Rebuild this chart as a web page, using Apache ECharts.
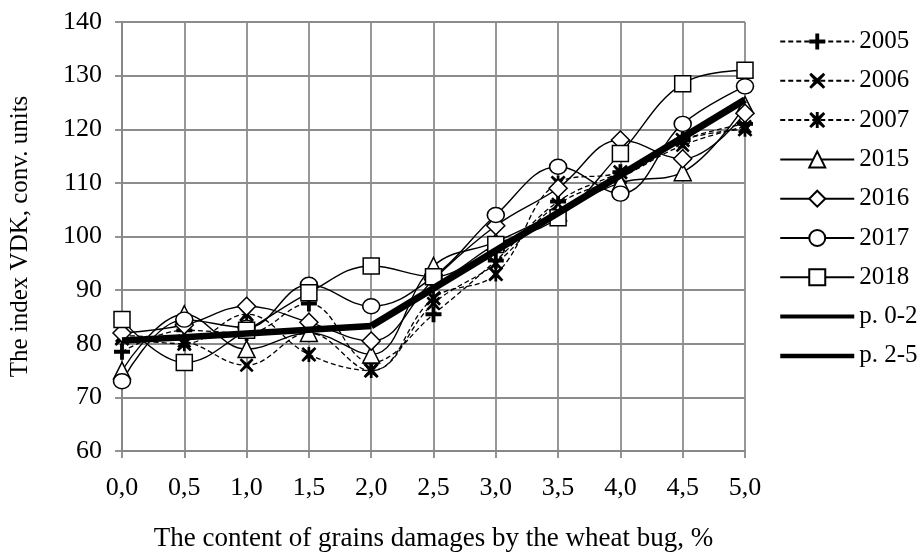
<!DOCTYPE html>
<html>
<head>
<meta charset="utf-8">
<script src="https://cdn.jsdelivr.net/npm/echarts@6/dist/echarts.min.js"></script>
<style>
html,body{margin:0;padding:0;background:#fff;}
#c{width:922px;height:557px;}
</style>
</head>
<body>
<div id="c"></div>
<script>
// ---- data ----
const xValues = [0, 0.5, 1.0, 1.5, 2.0, 2.5, 3.0, 3.5, 4.0, 4.5, 5.0];
const y2005 = [78.5, 82.5, 82.0, 87.5, 76.5, 85.5, 95.5, 106.5, 112.0, 118.0, 121.0];
const y2006 = [81.5, 80.5, 76.0, 82.0, 75.0, 87.5, 95.0, 106.0, 111.0, 117.0, 120.5];
const y2007 = [81.0, 80.0, 85.5, 78.0, 75.0, 88.5, 93.0, 110.0, 112.0, 118.0, 120.0];
const y2015 = [75.0, 85.5, 79.0, 82.0, 78.0, 94.5, 99.0, 104.5, 110.0, 112.0, 124.5];
const y2016 = [82.0, 83.5, 87.0, 84.0, 80.5, 92.0, 102.0, 109.0, 118.0, 114.5, 123.0];
const y2017 = [73.0, 84.5, 83.0, 91.0, 87.0, 92.5, 104.0, 113.0, 108.0, 121.0, 128.0];
const y2018 = [84.5, 76.5, 82.5, 89.5, 94.5, 92.5, 98.5, 103.5, 115.5, 128.5, 131.0];
const p02X = [0, 0.5, 1.0, 1.5, 2.0];
const p02Y = [80.6, 81.2, 81.9, 82.6, 83.3];
const p25X = [2.0, 5.0];
const p25Y = [83.3, 125.5];
const yearNames = ['2005', '2006', '2007', '2015', '2016', '2017', '2018'];
const trendNames = ['p. 0-2', 'p. 2-5'];
const xTitle = 'The content of grains damages by the wheat bug, %';
const yTitle = 'The index VDK, conv. units';

const FONT = 'Liberation Serif';
const pair = (xs, ys) => xs.map((x, i) => [x, ys[i]]);

const PLUS = 'path://M3.8,0H6.2V3.8H10V6.2H6.2V10H3.8V6.2H0V3.8H3.8Z';
const CROSS = 'path://M1.2,0L5,3.4L8.8,0L10,1.2L6.6,5L10,8.8L8.8,10L5,6.6L1.2,10L0,8.8L3.4,5L0,1.2Z';
const STAR = 'path://M1.2,0L5,3.4L8.8,0L10,1.2L6.6,5L10,8.8L8.8,10L5,6.6L1.2,10L0,8.8L3.4,5L0,1.2Z M4.1,0H5.9V10H4.1Z';

function yearSeries(name, ys, symbol, size, dashed, filled) {
  return {
    name: name,
    type: 'line',
    data: pair(xValues, ys),
    smooth: 0.4,
    symbol: symbol,
    symbolSize: size,
    showSymbol: true,
    lineStyle: {color: '#000', width: dashed ? 1.3 : 1.4, type: dashed ? [5, 3] : 'solid'},
    itemStyle: filled ? {color: '#000', borderWidth: 0}
                      : {color: '#fff', borderColor: '#000', borderWidth: 1.5},
    emphasis: {disabled: true},
    z: 3
  };
}

const series = [
  yearSeries(yearNames[0], y2005, PLUS, 16, true, true),
  yearSeries(yearNames[1], y2006, CROSS, 14, true, true),
  yearSeries(yearNames[2], y2007, STAR, 15, true, true),
  yearSeries(yearNames[3], y2015, 'triangle', 17, false, false),
  yearSeries(yearNames[4], y2016, 'diamond', 18, false, false),
  yearSeries(yearNames[5], y2017, 'circle', [17, 15], false, false),
  yearSeries(yearNames[6], y2018, 'rect', 16, false, false),
  {
    name: trendNames[0], type: 'line', data: pair(p02X, p02Y), smooth: false,
    symbol: 'circle', showSymbol: false,
    lineStyle: {color: '#000', width: 6.5}, itemStyle: {color: '#000'},
    emphasis: {disabled: true}, z: 5
  },
  {
    name: trendNames[1], type: 'line', data: pair(p25X, p25Y), smooth: false,
    symbol: 'circle', showSymbol: false,
    lineStyle: {color: '#000', width: 7}, itemStyle: {color: '#000'},
    emphasis: {disabled: true}, z: 5
  }
];

const legendData = yearNames.map(n => ({name: n})).concat([
  {name: trendNames[0], itemStyle: {opacity: 0}, lineStyle: {color: '#000', width: 4, type: 'solid'}},
  {name: trendNames[1], itemStyle: {opacity: 0}, lineStyle: {color: '#000', width: 4.5, type: 'solid'}}
]);

const chart = echarts.init(document.getElementById('c'), null, {renderer: 'canvas'});
chart.setOption({
  animation: false,
  backgroundColor: '#fff',
  textStyle: {fontFamily: FONT},
  grid: {left: 120, right: 177, top: 22, bottom: 104, containLabel: false},
  legend: {
    orient: 'vertical',
    left: 773, top: 24,
    itemWidth: 74, itemHeight: 20, itemGap: 14.3,
    data: legendData,
    selectedMode: false,
    textStyle: {fontFamily: FONT, fontSize: 25, color: '#000', lineHeight: 25}
  },
  xAxis: {
    type: 'value', min: 0, max: 5, interval: 0.5,
    name: xTitle, nameLocation: 'middle', nameGap: 74,
    nameTextStyle: {fontFamily: FONT, fontSize: 27, color: '#000'},
    axisLine: {show: true, lineStyle: {color: '#878787', width: 1.8}},
    axisTick: {show: true, length: 7, lineStyle: {color: '#878787', width: 1.8}},
    axisLabel: {
      margin: 24, fontFamily: FONT, fontSize: 26, color: '#000',
      showMinLabel: true, showMaxLabel: true,
      formatter: v => v.toFixed(1).replace('.', ',')
    },
    splitLine: {show: true, lineStyle: {color: '#8c8c8c', width: 1.8}}
  },
  yAxis: {
    type: 'value', min: 60, max: 140, interval: 10,
    name: yTitle, nameLocation: 'middle', nameGap: 89,
    nameTextStyle: {fontFamily: FONT, fontSize: 25, color: '#000'},
    axisLine: {show: true, lineStyle: {color: '#878787', width: 1.8}},
    axisTick: {show: true, length: 7, lineStyle: {color: '#878787', width: 1.8}},
    axisLabel: {margin: 20, fontFamily: FONT, fontSize: 26, color: '#000'},
    splitLine: {show: true, lineStyle: {color: '#8c8c8c', width: 1.8}}
  },
  series: series
});
</script>
</body>
</html>
